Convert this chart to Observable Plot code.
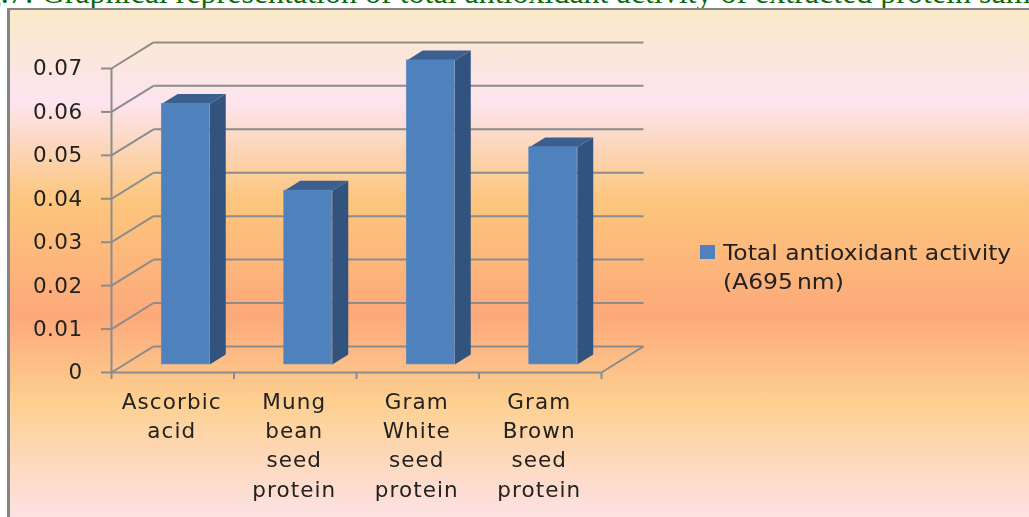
<!DOCTYPE html>
<html><head><meta charset="utf-8">
<script src="https://cdn.jsdelivr.net/npm/d3@7"></script>
<script src="https://cdn.jsdelivr.net/npm/@observablehq/plot@0.6"></script>
<style>
html,body{margin:0;padding:0;background:#fff;width:1029px;height:517px;overflow:hidden}
#page{position:relative;width:1029px;height:517px;overflow:hidden}
#title{position:absolute;left:-42px;top:-25px;line-height:34px;white-space:nowrap;font-family:"Liberation Serif",serif;font-size:32px;color:#0b6b0b}
#panel{position:absolute;left:7px;top:8px;width:1040px;height:530px;border-left:3px solid #848484;border-top:2px solid #848484;
background:linear-gradient(180deg,#faeac8 0px,#fde4ef 92px,#fcc67d 190px,#fca97a 306px,#fdd090 392px,#fde0e0 500px)}
#chart{position:absolute;left:0;top:0;filter:blur(.45px)}
#legend{position:absolute;left:700px;top:239px;font:21px/29px "DejaVu Sans",sans-serif;color:#222;filter:blur(.35px)}
#legend i{position:absolute;left:0;top:6px;width:15px;height:14px;background:#4f81bd}
#legend div{margin-left:23px;white-space:nowrap;transform:scaleX(1.116);transform-origin:left center}
#legend span{word-spacing:-3px}
</style></head><body>
<div id="page">
<div id="title">Fig.7: Graphical representation of total antioxidant activity of extracted protein samples</div>
<div id="panel"></div>
<div id="chart"></div>
<div id="legend"><i></i><div>Total antioxidant activity<br><span>(A695 nm)</span></div></div>
</div>
<script>
const categories = ["Ascorbic\nacid","Mung\nbean\nseed\nprotein","Gram\nWhite\nseed\nprotein","Gram\nBrown\nseed\nprotein"];
const values = [0.06,0.04,0.07,0.05];
const yTicks = [0,0.01,0.02,0.03,0.04,0.05,0.06,0.07];
const xBounds = [0,1,2,3,4];

// oblique projection of the 3-D chart, expressed in data units
const DX = 0.343, DY = 0.006;
const P = (c,v,d)=>({x:c+d*DX,y:v+d*DY});
const HALF = 0.196, D0 = 0.31, D1 = 0.69;
const poly = (id,pts)=>pts.map(([c,v,d])=>({id,...P(c,v,d)}));

const rows = values.map((v,i)=>({i,v,c:i+.5}));
const fronts = rows.map(r=>({x1:P(r.c-HALF,0,D0).x,x2:P(r.c+HALF,0,D0).x,y1:P(0,0,D0).y,y2:P(0,r.v,D0).y}));
const sides = rows.flatMap(r=>{const a=r.c+HALF;return poly("s"+r.i,[[a,0,D0],[a,r.v,D0],[a,r.v,D1],[a,0,D1],[a,0,D0]]);});
const tops = rows.flatMap(r=>{const a=r.c-HALF,b=r.c+HALF;return poly("t"+r.i,[[a,r.v,D0],[b,r.v,D0],[b,r.v,D1],[a,r.v,D1],[a,r.v,D0]]);});

const grid = "#8c8c8c";
const chart = Plot.plot({
  width:1029,height:517,marginLeft:111,marginRight:428,marginTop:68,marginBottom:145,
  style:{background:"transparent",fontFamily:"'DejaVu Sans',sans-serif",fontSize:"21.5px",color:"#222",letterSpacing:"1.1px"},
  x:{type:"linear",domain:[0,4],axis:null},
  y:{type:"linear",domain:[0,0.07],axis:null},
  marks:[
    // back wall and side wall
    Plot.link(yTicks,{x1:DX,x2:4+DX,y1:d=>d+DY,y2:d=>d+DY,stroke:grid,strokeWidth:2}),
    Plot.link(yTicks,{x1:0,x2:DX,y1:d=>d,y2:d=>d+DY,stroke:grid,strokeWidth:2}),
    Plot.link([0],{x1:4,x2:4+DX,y1:0,y2:DY,stroke:grid,strokeWidth:2}),
    // bars
    Plot.line(sides,{x:"x",y:"y",z:"id",fill:"#32537e",stroke:null}),
    Plot.line(tops,{x:"x",y:"y",z:"id",fill:"#3b6090",stroke:null}),
    Plot.rect(fronts,{x1:"x1",x2:"x2",y1:"y1",y2:"y2",fill:"#4f81bd",stroke:"#5a8ac4",strokeWidth:.6}),
    // axes
    Plot.ruleX([0],{y1:0,y2:0.07,stroke:grid,strokeWidth:2}),
    Plot.ruleY([0],{x1:0,x2:4,stroke:grid,strokeWidth:2}),
    Plot.axisY({ticks:yTicks,tickFormat:d=>String(d),tickSize:10,tickPadding:19,stroke:grid,strokeWidth:2,strokeOpacity:1,fontSize:21.5,label:null,fill:"#222"}),
    Plot.axisX({ticks:xBounds,tickFormat:()=>"",tickSize:7,stroke:grid,strokeWidth:2,strokeOpacity:1,label:null}),
    Plot.text(categories,{x:(d,i)=>i+.5,y:0,text:d=>d,dy:16,dx:-1,lineAnchor:"top",lineHeight:1.355,fontSize:21.5,fill:"#222"})
  ]
});
d3.select(chart).selectAll('[aria-label="y-axis tick label"] text').style("letter-spacing","0.4px");
document.getElementById("chart").append(chart);
</script>
</body></html>
